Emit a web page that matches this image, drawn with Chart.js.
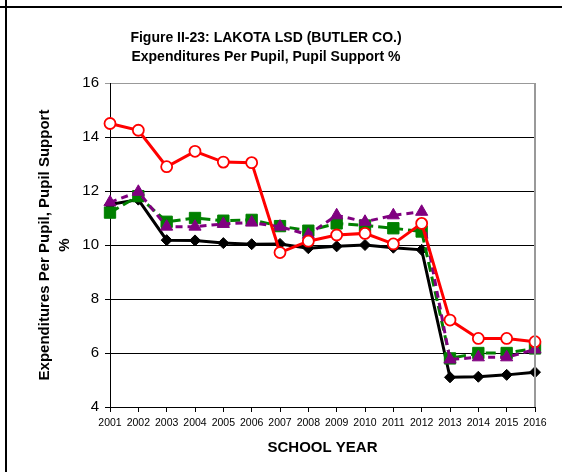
<!DOCTYPE html>
<html>
<head>
<meta charset="utf-8">
<script src="https://cdn.jsdelivr.net/npm/chart.js@4"></script>
<style>
  html, body { margin: 0; padding: 0; background: #fff; }
  canvas { display: block; }
</style>
</head>
<body>
<canvas id="chart" width="562" height="472"></canvas>
<script>
const years = ['2001','2002','2003','2004','2005','2006','2007','2008','2009','2010','2011','2012','2013','2014','2015','2016'];
const redSeries = [14.5, 14.25, 12.9, 13.47, 13.07, 13.05, 9.72, 10.14, 10.37, 10.43, 10.04, 10.8, 7.22, 6.54, 6.54, 6.42];
const purpleSeries = [11.58, 11.97, 10.68, 10.68, 10.78, 10.83, 10.68, 10.38, 11.1, 10.86, 11.1, 11.23, 5.76, 5.84, 5.84, 6.13];
const greenSeries = [11.2, 11.81, 10.86, 11.0, 10.9, 10.93, 10.7, 10.53, 10.8, 10.72, 10.62, 10.5, 5.8, 6.0, 6.0, 6.17];
const blackSeries = [11.5, 11.68, 10.18, 10.17, 10.07, 10.03, 10.04, 9.88, 9.95, 10.0, 9.9, 9.82, 5.1, 5.12, 5.19, 5.29];
const yTicks = [4, 6, 8, 10, 12, 14, 16];
const titleLines = ['Figure II-23: LAKOTA LSD (BUTLER CO.)', 'Expenditures Per Pupil, Pupil Support %'];

const FONT = "'Liberation Sans', Arial, sans-serif";

// frame lines, title text, gray plot border (right)
const framePlugin = {
  id: 'frame',
  beforeDraw(chart) {
    const c = chart.ctx;
    c.save();
    c.fillStyle = '#fff';
    c.fillRect(0, 0, chart.width, chart.height);
    c.strokeStyle = '#000';
    c.lineWidth = 2;
    c.beginPath();
    c.moveTo(0, 7); c.lineTo(chart.width, 7);
    c.moveTo(6, 0); c.lineTo(6, chart.height);
    c.stroke();
    c.fillStyle = '#000';
    c.font = 'bold 14px ' + FONT;
    c.textAlign = 'center';
    c.textBaseline = 'middle';
    titleLines.forEach((t, i) => c.fillText(t, 266, 38 + i * 19));
    c.restore();
  },
  afterDatasetsDraw(chart) {
    const a = chart.chartArea;
    const c = chart.ctx;
    c.save();
    c.strokeStyle = '#999';
    c.lineWidth = 2;
    c.beginPath();
    c.moveTo(a.right, a.top);
    c.lineTo(a.right, a.bottom);
    c.stroke();
    c.restore();
  }
};

new Chart(document.getElementById('chart'), {
  type: 'line',
  data: {
    labels: years,
    datasets: [
      { data: redSeries, borderColor: '#ff0000', borderWidth: 3, pointStyle: 'circle',
        pointRadius: 5.5, pointBackgroundColor: '#fff', pointBorderColor: '#ff0000', pointBorderWidth: 1.8 },
      { data: purpleSeries, borderColor: '#800080', borderWidth: 3, borderDash: [7, 5], pointStyle: 'triangle',
        pointRadius: 7, pointBackgroundColor: '#800080', pointBorderColor: '#800080', pointBorderWidth: 1 },
      { data: greenSeries, borderColor: '#008000', borderWidth: 3, borderDash: [10, 5], pointStyle: 'rect',
        pointRadius: 8, pointBackgroundColor: '#008000', pointBorderColor: '#008000', pointBorderWidth: 1 },
      { data: blackSeries, borderColor: '#000', borderWidth: 3, pointStyle: 'rectRot',
        pointRadius: 5.5, pointBackgroundColor: '#000', pointBorderColor: '#000', pointBorderWidth: 1 }
    ]
  },
  options: {
    responsive: false,
    animation: false,
    elements: { line: { tension: 0 } },
    layout: { padding: { left: 25, right: 27, top: 83, bottom: 14 } },
    plugins: {
      legend: { display: false },
      tooltip: { enabled: false },
      title: { display: false }
    },
    scales: {
      x: {
        offset: false,
        grid: { drawOnChartArea: false, drawTicks: true, tickLength: 5, color: '#000' },
        border: { color: '#000', width: 1 },
        ticks: { color: '#000', font: { family: FONT, size: 10.5 }, padding: 5, maxRotation: 0, autoSkip: false },
        title: { display: true, text: 'SCHOOL YEAR', color: '#000',
          font: { family: FONT, size: 15, weight: 'bold' }, padding: { top: 0, bottom: 1 } },
        afterFit(scale) { scale.height = 51; }
      },
      y: {
        min: 4, max: 16,
        afterBuildTicks(scale) { scale.ticks = yTicks.map(v => ({ value: v })); },
        grid: { color: ctx => ctx.tick && ctx.tick.value === 16 ? '#999' : '#000', tickLength: 5, lineWidth: 1 },
        border: { color: '#000', width: 1 },
        ticks: { color: '#000', font: { family: FONT, size: 15 }, padding: 6 },
        title: { display: true, text: ['Expenditures Per Pupil, Pupil Support', '%'], color: '#000',
          font: { family: FONT, size: 15, weight: 'bold', lineHeight: 1.333 }, padding: { top: 10, bottom: 0 } },
        afterFit(scale) { scale.width = 85; }
      }
    }
  },
  plugins: [framePlugin]
});
</script>
</body>
</html>
